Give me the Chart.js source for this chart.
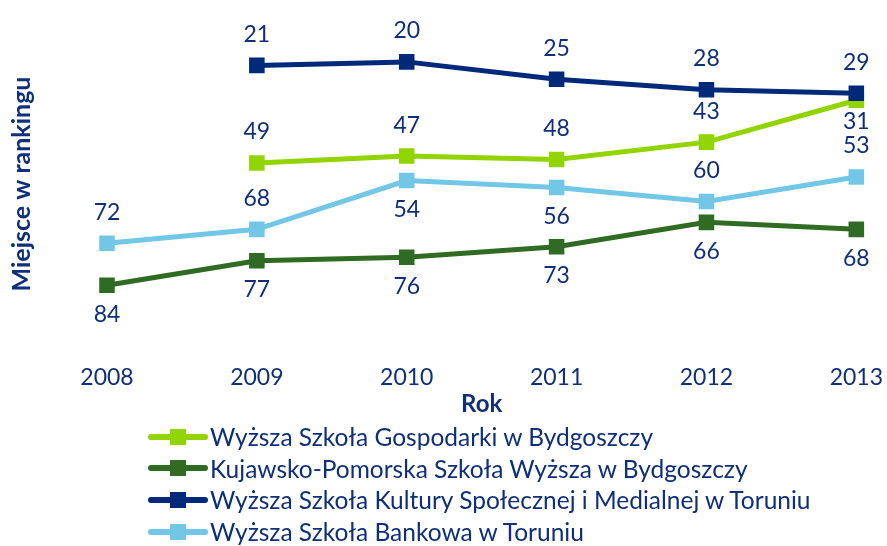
<!DOCTYPE html>
<html>
<head>
<meta charset="utf-8">
<script src="https://cdn.jsdelivr.net/npm/chart.js@4"></script>
<style>
  html, body { margin: 0; padding: 0; background: #fff; }
  #wrap { position: relative; width: 887px; height: 546px; }
  #legend { position: absolute; left: 148px; top: 421px; font-family: Lato, sans-serif; font-size: 24.5px; color: #0f2f7a; }
  .item { display: flex; align-items: center; height: 31.6px; white-space: nowrap; }
  .mark { position: relative; width: 60px; height: 6px; border-radius: 3px; margin-right: 2px; flex: none; }
  .mark span { position: absolute; left: 22px; top: -5px; width: 16px; height: 16px; }
</style>
</head>
<body>
<div id="wrap">
  <canvas id="chart" width="887" height="546"></canvas>
  <div id="legend"></div>
</div>
<script>
const years = ['2008', '2009', '2010', '2011', '2012', '2013'];

const seriesNames = [
  'Wyższa Szkoła Gospodarki w Bydgoszczy',
  'Kujawsko-Pomorska Szkoła Wyższa w Bydgoszczy',
  'Wyższa Szkoła Kultury Społecznej i Medialnej w Toruniu',
  'Wyższa Szkoła Bankowa w Toruniu'
];

const wsgRank = [null, 49, 47, 48, 43, 31];
const kpswRank = [84, 77, 76, 73, 66, 68];
const wsksimRank = [null, 21, 20, 25, 28, 29];
const wsbRank = [72, 68, 54, 56, 60, 53];

const colors = ['#92d400', '#2f6b22', '#00297a', '#72c7e7'];
const textColor = '#0f2f7a';

// where the value label sits relative to its point
const labelSide = [
  ['up', 'up', 'up', 'up', 'up', 'near'],
  ['down', 'down', 'down', 'down', 'down', 'down'],
  ['up', 'up', 'up', 'up', 'up', 'up'],
  ['up', 'up', 'down', 'down', 'up', 'up']
];
const sideOffset = { up: -31, down: 29, near: 21 };

const valueLabels = {
  id: 'valueLabels',
  afterDatasetsDraw(chart) {
    const ctx = chart.ctx;
    ctx.save();
    ctx.font = '23px Lato, sans-serif';
    ctx.fillStyle = textColor;
    ctx.textAlign = 'center';
    ctx.textBaseline = 'middle';
    chart.data.datasets.forEach((ds, i) => {
      const meta = chart.getDatasetMeta(i);
      meta.data.forEach((pt, j) => {
        const v = ds.data[j];
        if (v === null || v === undefined) return;
        ctx.fillText(String(v), pt.x, pt.y + sideOffset[labelSide[i][j]]);
      });
    });
    ctx.restore();
  }
};

const allRanks = [wsgRank, kpswRank, wsksimRank, wsbRank];
const datasets = allRanks.map((d, i) => ({
  label: seriesNames[i],
  data: d,
  borderColor: colors[i],
  backgroundColor: colors[i],
  borderWidth: 5,
  pointStyle: 'rect',
  pointRadius: 11,
  pointHoverRadius: 11,
  pointBorderWidth: 0,
  tension: 0,
  spanGaps: false,
  order: i === 2 ? 0 : 1
}));

const chart = new Chart(document.getElementById('chart'), {
  type: 'line',
  data: { labels: years, datasets: datasets },
  options: {
    responsive: false,
    animation: false,
    layout: { padding: { left: 4, right: 30, top: 27, bottom: 127.6 } },
    plugins: {
      legend: { display: false },
      tooltip: { enabled: false }
    },
    scales: {
      x: {
        offset: false,
        grid: { display: false, drawTicks: false },
        border: { display: false },
        ticks: { color: textColor, font: { family: 'Lato', size: 23, lineHeight: 2.87 }, padding: 4 },
        title: {
          display: true, text: 'Rok', color: textColor,
          font: { family: 'Lato', size: 24, weight: 'bold' },
          padding: { top: -25.4, bottom: 0 }
        }
      },
      y: {
        reverse: true,
        min: 10,
        max: 100,
        grid: { display: false, drawTicks: false },
        border: { display: false },
        ticks: { display: false },
        title: {
          display: true, text: 'Miejsce w rankingu', color: textColor,
          font: { family: 'Lato', size: 25, weight: 'bold' },
          padding: { top: 3, bottom: 70 }
        }
      }
    }
  },
  plugins: [valueLabels]
});

// legend drawn as html under the chart
const legend = document.getElementById('legend');
chart.data.datasets.forEach(ds => {
  const row = document.createElement('div');
  row.className = 'item';
  const mark = document.createElement('div');
  mark.className = 'mark';
  mark.style.background = ds.borderColor;
  const sq = document.createElement('span');
  sq.style.background = ds.borderColor;
  mark.appendChild(sq);
  const txt = document.createElement('span');
  txt.textContent = ds.label;
  row.appendChild(mark);
  row.appendChild(txt);
  legend.appendChild(row);
});
</script>
</body>
</html>
